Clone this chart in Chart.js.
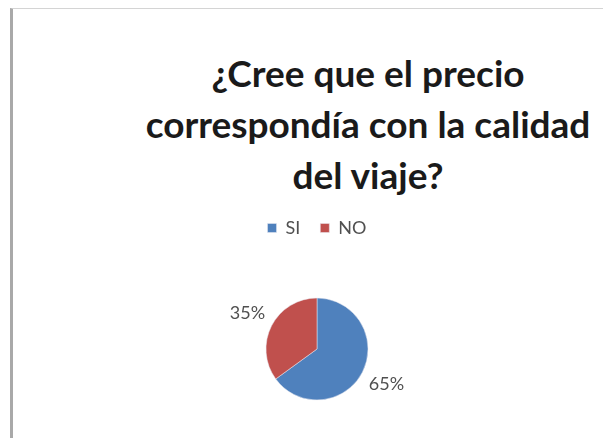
<!DOCTYPE html>
<html>
<head>
<meta charset="utf-8">
<script src="https://cdn.jsdelivr.net/npm/chart.js@4"></script>
<style>
  html, body { margin: 0; padding: 0; width: 603px; height: 438px; overflow: hidden; background: #fff; }
  #frame { position: absolute; left: 10px; top: 8px; width: 610px; height: 450px;
           border-left: 3px solid #a9a9a9; border-top: 1px solid #d4d4d4; }
  #title { position: absolute; left: 124px; top: 47px; width: 488px; text-align: center;
           font-family: Lato, sans-serif; font-weight: bold; font-size: 37px; line-height: 51px; color: #1a1a1a; }
  #chart { position: absolute; left: 14px; top: 197px; }
</style>
</head>
<body>
<div id="frame"></div>
<div id="title">¿Cree que el precio<br>correspondía con la calidad<br>del viaje?</div>
<canvas id="chart" width="589" height="254"></canvas>
<script>
const categories = ['SI', 'NO'];
const percentages = [65, 35];
const sliceColors = ['#4f81bd', '#c0504d'];

// percent labels just outside each slice
const outsideLabels = {
  id: 'outsideLabels',
  afterDatasetsDraw(chart) {
    const ctx = chart.ctx;
    const meta = chart.getDatasetMeta(0);
    ctx.save();
    ctx.font = '18px Lato, sans-serif';
    ctx.fillStyle = '#505050';
    ctx.textAlign = 'center';
    ctx.textBaseline = 'middle';
    meta.data.forEach(function(arc, i) {
      const mid = (arc.startAngle + arc.endAngle) / 2;
      const r = arc.outerRadius + 27;
      ctx.fillText(percentages[i] + '%', arc.x + Math.cos(mid) * r, arc.y + Math.sin(mid) * r);
    });
    ctx.restore();
  }
};

new Chart('chart', {
  type: 'pie',
  data: {
    labels: categories,
    datasets: [{
      data: percentages,
      backgroundColor: sliceColors,
      borderColor: '#e8e8f0',
      borderWidth: 0.5,
      radius: 51
    }]
  },
  options: {
    responsive: false,
    animation: false,
    layout: { padding: { top: 2, left: 17 } },
    plugins: {
      tooltip: { enabled: false },
      legend: {
        position: 'top',
        labels: {
          boxWidth: 9,
          boxHeight: 9,
          padding: 20,
          color: '#505050',
          font: { family: 'Lato, sans-serif', size: 18 }
        }
      }
    }
  },
  plugins: [outsideLabels]
});
</script>
</body>
</html>
